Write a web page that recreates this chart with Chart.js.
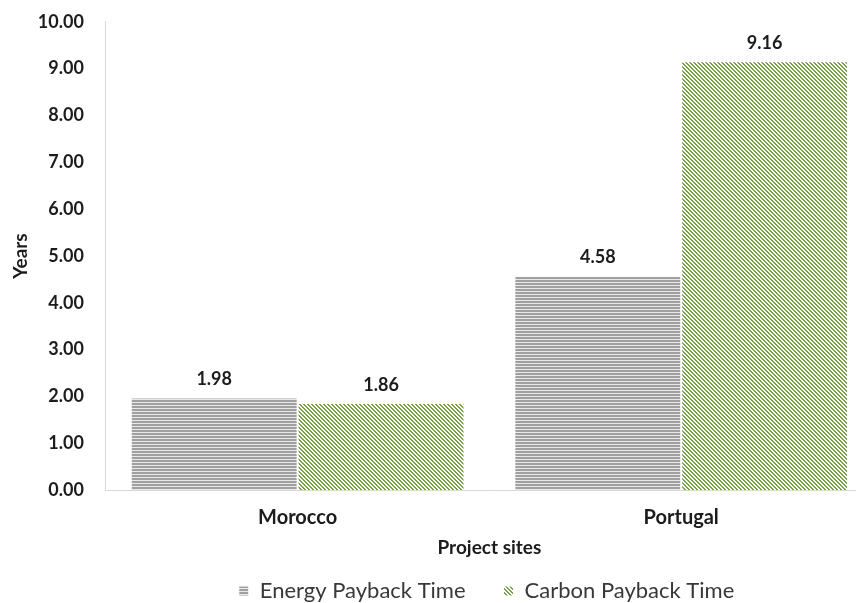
<!DOCTYPE html>
<html>
<head>
<meta charset="utf-8">
<script src="https://cdn.jsdelivr.net/npm/chart.js@4/dist/chart.umd.min.js"></script>
<style>
  html, body { margin: 0; padding: 0; background: #fff; overflow: hidden; }
  #wrap { width: 900px; height: 623px; margin-top: -11px; }
</style>
</head>
<body>
<div id="wrap"><canvas id="chart" width="900" height="623"></canvas></div>
<script>
// values
const categories = ['Morocco', 'Portugal'];
const energyPayback = [1.98, 4.58];
const carbonPayback = [1.86, 9.16];
const seriesNames = ['Energy Payback Time', 'Carbon Payback Time'];
const yTicks = [0, 1, 2, 3, 4, 5, 6, 7, 8, 9, 10];

const FONT = 'Lato, "Open Sans", sans-serif';
const INK = '#1c1c1c';

// small pattern tiles for the hatched fills
function makePattern(size, paint) {
  const c = document.createElement('canvas');
  c.width = size; c.height = size;
  const g = c.getContext('2d');
  const img = g.createImageData(size, size);
  for (let y = 0; y < size; y++) {
    for (let x = 0; x < size; x++) {
      const col = paint(x, y);
      const i = (y * size + x) * 4;
      img.data[i] = col[0]; img.data[i+1] = col[1]; img.data[i+2] = col[2]; img.data[i+3] = 255;
    }
  }
  g.putImageData(img, 0, 0);
  return g.createPattern(c, 'repeat');
}

const ctx = document.getElementById('chart').getContext('2d');
const grayStripes = makePattern(3, (x, y) => y === 2 ? [232, 232, 232] : [160, 160, 160]);
const greenDiag = makePattern(4, (x, y) => {
  const d = ((x - y) % 4 + 4) % 4;
  return d < 2 ? [120, 160, 72] : [255, 255, 255];
});

const valueLabels = {
  id: 'valueLabels',
  afterDatasetsDraw(chart) {
    const c = chart.ctx;
    c.save();
    c.font = 'bold 18px ' + FONT;
    c.fillStyle = INK;
    c.textAlign = 'center';
    c.textBaseline = 'middle';
    chart.data.datasets.forEach((ds, i) => {
      chart.getDatasetMeta(i).data.forEach((bar, j) => {
        c.fillText(ds.data[j].toFixed(2), bar.x, bar.y - 18);
      });
    });
    c.restore();
  }
};

// the legend sits centred under the plot, not under the whole canvas
const legendShift = {
  id: 'legendShift',
  afterLayout(chart) {
    chart.legend.left += 50;
    chart.legend.right += 50;
  }
};

new Chart(ctx, {
  type: 'bar',
  data: {
    labels: categories,
    datasets: [
      { label: seriesNames[0], data: energyPayback, backgroundColor: grayStripes, borderColor: '#ffffff', borderWidth: 1 },
      { label: seriesNames[1], data: carbonPayback, backgroundColor: greenDiag, borderColor: '#ffffff', borderWidth: 1 }
    ]
  },
  options: {
    responsive: false,
    animation: false,
    layout: { padding: { top: 0, right: 27, bottom: 0, left: 0 } },
    datasets: { bar: { categoryPercentage: 0.87, barPercentage: 1.0 } },
    plugins: {
      legend: {
        position: 'bottom',
        labels: {
          font: { family: FONT, size: 22 },
          color: '#383838',
          boxWidth: 10,
          boxHeight: 10,
          padding: 38
        }
      },
      tooltip: { enabled: false }
    },
    scales: {
      x: {
        grid: { display: false, drawTicks: false },
        border: { color: '#d9d9d9', width: 1 },
        ticks: { font: { family: FONT, size: 20, weight: 'bold' }, color: INK, padding: 15 },
        title: { display: true, text: 'Project sites', font: { family: FONT, size: 19, weight: 'bold' }, color: INK, padding: { top: -8, bottom: -17 } }
      },
      y: {
        min: 0,
        max: 10,
        afterBuildTicks(scale) { scale.ticks = yTicks.map(v => ({ value: v })); },
        grid: { display: false, drawTicks: false },
        border: { color: '#d9d9d9', width: 1 },
        ticks: { font: { family: FONT, size: 18, weight: 'bold' }, color: INK, padding: 22, callback: v => Number(v).toFixed(2) },
        title: { display: true, text: 'Years', font: { family: FONT, size: 19, weight: 'bold' }, color: INK, padding: { top: 9, bottom: -16 } }
      }
    }
  },
  plugins: [valueLabels, legendShift]
});
</script>
</body>
</html>
